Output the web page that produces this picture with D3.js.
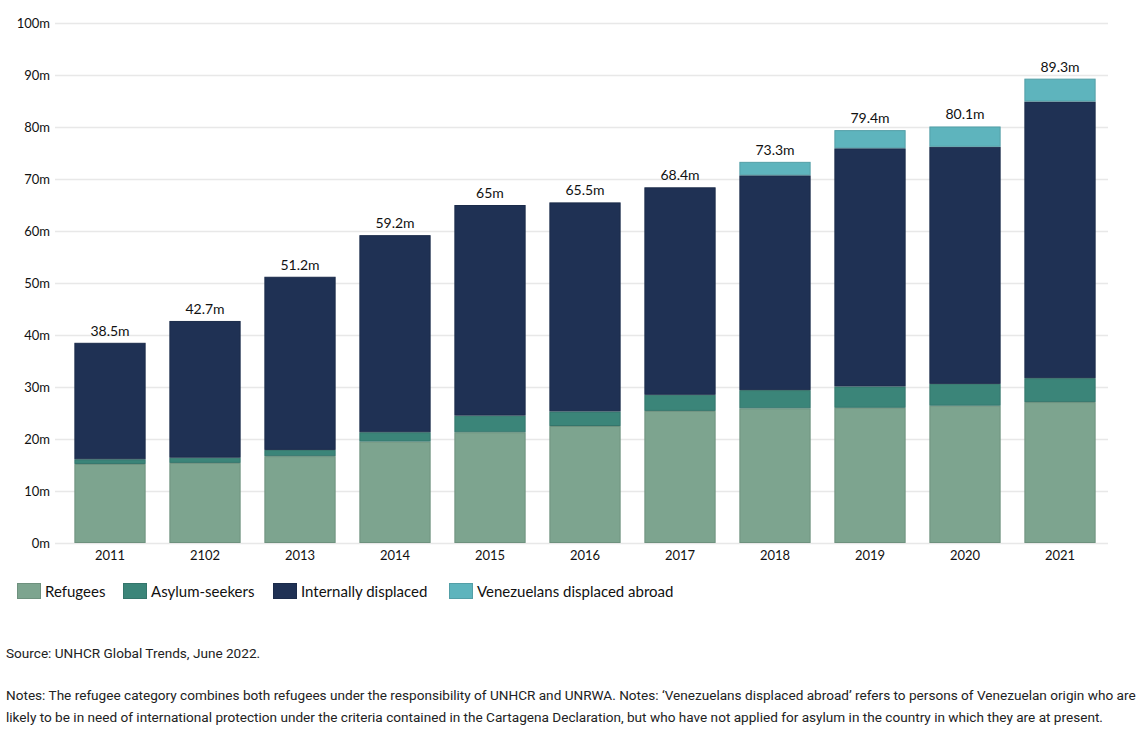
<!DOCTYPE html>
<html>
<head>
<meta charset="utf-8">
<script src="https://cdn.jsdelivr.net/npm/d3@7"></script>
<style>
  body { margin: 0; background: #fff; }
  svg { display: block; }
  .chart text { font-family: Lato, "Noto Sans", sans-serif; fill: #111; }
  .notes text { font-family: Roboto, sans-serif; font-size: 13.6px; fill: #222; }
</style>
</head>
<body>
<div id="chart"></div>
<script>
  // data, millions
  const years = ["2011", "2102", "2013", "2014", "2015", "2016", "2017", "2018", "2019", "2020", "2021"]
  const refugees = [15.2, 15.4, 16.7, 19.5, 21.3, 22.5, 25.4, 25.9, 26.0, 26.4, 27.1]
  const asylumSeekers = [0.9, 1.0, 1.2, 1.8, 3.2, 2.8, 3.1, 3.5, 4.1, 4.2, 4.6]
  const internallyDisplaced = [22.4, 26.3, 33.3, 37.9, 40.5, 40.2, 39.9, 41.3, 45.8, 45.6, 53.2]
  const venezuelans = [0, 0, 0, 0, 0, 0, 0, 2.6, 3.5, 3.9, 4.4]
  const totalLabels = ["38.5m", "42.7m", "51.2m", "59.2m", "65m", "65.5m", "68.4m", "73.3m", "79.4m", "80.1m", "89.3m"]
  const yTicks = [0, 10, 20, 30, 40, 50, 60, 70, 80, 90, 100]

  const seriesNames = ["Refugees", "Asylum-seekers", "Internally displaced", "Venezuelans displaced abroad"]
  const seriesKeys = ["refugees", "asylum", "idp", "ven"]
  const colors = ["#7da48f", "#3b8579", "#1f3154", "#5eb4bd"]

  const width = 1144
  const height = 742
  const margin = { top: 23, right: 36, bottom: 199, left: 55 }

  const rows = years.map(function (year, i) {
    return {
      year: year,
      refugees: refugees[i],
      asylum: asylumSeekers[i],
      idp: internallyDisplaced[i],
      ven: venezuelans[i],
      label: totalLabels[i]
    }
  })

  const stacked = d3.stack().keys(seriesKeys)(rows)

  const x = d3.scaleBand()
    .domain(years)
    .range([62.5, 1107.5])
    .paddingInner(0.25)
    .paddingOuter(0.125)

  const y = d3.scaleLinear()
    .domain([0, 100])
    .range([height - margin.bottom, margin.top])

  const color = d3.scaleOrdinal(seriesKeys, colors)

  const svg = d3.select('#chart').append('svg')
    .attr('width', width)
    .attr('height', height)
    .attr('viewBox', [0, 0, width, height])

  const chart = svg.append('g').attr('class', 'chart')

  // gridlines + y labels
  const yAxis = chart.append('g')
    .attr('transform', `translate(${margin.left},0)`)
    .call(d3.axisLeft(y)
      .tickValues(yTicks)
      .tickSize(-(1108 - margin.left))
      .tickPadding(5)
      .tickFormat(function (d) { return d + 'm' }))
  yAxis.select('.domain').remove()
  yAxis.selectAll('.tick line')
    .attr('stroke', '#e8e8e8')
    .attr('stroke-width', 1.5)
  yAxis.selectAll('.tick text')
    .attr('font-size', 13)
    .attr('x', -5)

  // x labels
  const xAxis = chart.append('g')
    .attr('transform', `translate(0,${y(0)})`)
    .call(d3.axisBottom(x).tickSize(0).tickPadding(8))
  xAxis.select('.domain').remove()
  xAxis.selectAll('.tick text').attr('font-size', 13)

  // stacked bars
  chart.append('g')
    .selectAll('g')
    .data(stacked)
    .join('g')
      .attr('fill', function (d) { return color(d.key) })
      .attr('stroke', function (d) { return d3.color(color(d.key)).darker(0.35) })
    .selectAll('rect')
    .data(function (d) { return d.filter(function (s) { return s[1] - s[0] > 0 }) })
    .join('rect')
      .attr('x', function (d) { return x(d.data.year) + 0.5 })
      .attr('y', function (d) { return y(d[1]) + 0.5 })
      .attr('width', x.bandwidth() - 1)
      .attr('height', function (d) { return Math.max(0, y(d[0]) - y(d[1]) - 1) })
      .attr('stroke-width', 1)

  // totals
  chart.append('g')
    .selectAll('text')
    .data(rows)
    .join('text')
      .attr('x', function (d) { return x(d.year) + x.bandwidth() / 2 })
      .attr('y', function (d) { return y(d.refugees + d.asylum + d.idp + d.ven) - 7 })
      .attr('text-anchor', 'middle')
      .attr('font-size', 14)
      .text(function (d) { return d.label })

  // legend
  const legendX = [17, 123, 273, 449]
  const legend = chart.append('g')
    .selectAll('g')
    .data(seriesNames)
    .join('g')
      .attr('transform', function (d, i) { return `translate(${legendX[i]},583)` })
  legend.append('rect')
    .attr('x', 0.5)
    .attr('y', 0.5)
    .attr('width', 23)
    .attr('height', 15)
    .attr('fill', function (d, i) { return colors[i] })
    .attr('stroke', function (d, i) { return d3.color(colors[i]).darker(0.35) })
  legend.append('text')
    .attr('x', 28)
    .attr('y', 14)
    .attr('font-size', 15)
    .text(function (d) { return d })

  // source and notes
  const notes = svg.append('g').attr('class', 'notes')
  const noteLines = [
    { text: "Source: UNHCR Global Trends, June 2022.", y: 658 },
    { text: "Notes: The refugee category combines both refugees under the responsibility of UNHCR and UNRWA. Notes: \u2018Venezuelans displaced abroad\u2019 refers to persons of Venezuelan origin who are", y: 700 },
    { text: "likely to be in need of international protection under the criteria contained in the Cartagena Declaration, but who have not applied for asylum in the country in which they are at present.", y: 722 }
  ]
  notes.selectAll('text')
    .data(noteLines)
    .join('text')
      .attr('x', 6)
      .attr('y', function (d) { return d.y })
      .text(function (d) { return d.text })
</script>
</body>
</html>
